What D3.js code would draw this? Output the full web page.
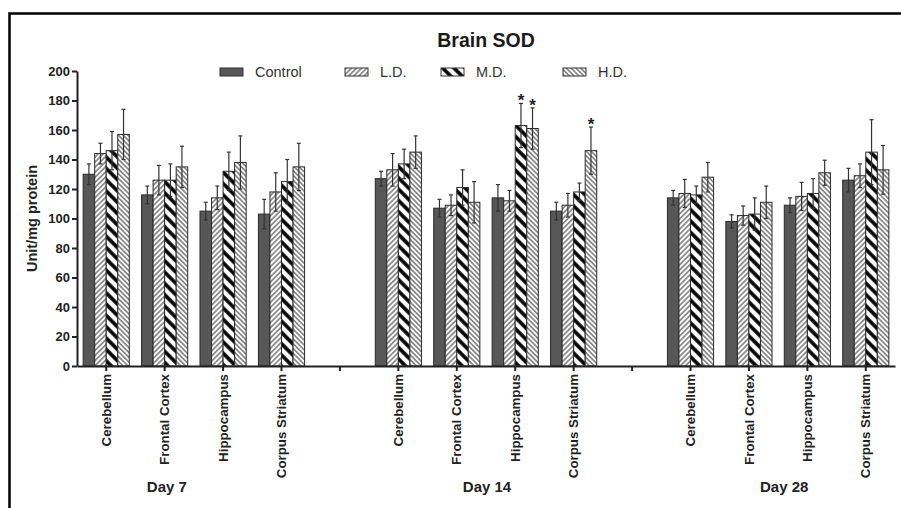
<!DOCTYPE html>
<html>
<head>
<meta charset="utf-8">
<script src="https://cdn.jsdelivr.net/npm/d3@7"></script>
<style>
  body { margin: 0; background: #fff; }
  svg { display: block; font-family: "Liberation Sans", Arial, sans-serif; }
</style>
</head>
<body>
<div id="chart"></div>
<script>
var width = 901;
var height = 508;

// data
var days = ["Day 7", "Day 14", "Day 28"];
var regions = ["Cerebellum", "Frontal Cortex", "Hippocampus", "Corpus Striatum"];
var series = ["Control", "L.D.", "M.D.", "H.D."];

// values per series, ordered day by day, region by region
var controlVals = [130, 116, 105, 103, 127, 107, 114, 105, 114, 98, 109, 126];
var ldVals      = [144, 126, 114, 118, 133, 109, 112, 109, 117, 102, 115, 129];
var mdVals      = [146, 126, 132, 125, 137, 121, 163, 118, 116, 103, 117, 145];
var hdVals      = [157, 135, 138, 135, 145, 111, 161, 146, 128, 111, 131, 133];

var controlErr = [7, 6, 6, 10, 5, 6, 9, 6, 5, 4.5, 5, 8];
var ldErr      = [7, 10, 8, 13, 11, 7, 7, 8, 9.5, 6.5, 9.5, 8];
var mdErr      = [13, 11, 13, 15, 10, 12, 15, 6, 6, 11, 10, 22];
var hdErr      = [17, 14, 18, 16, 11, 14, 14, 16, 10, 11, 8.5, 16.5];

// significance stars: [day, region, series]
var stars = [[1, 2, 2], [1, 2, 3], [1, 3, 3]];

var yTicks = [0, 20, 40, 60, 80, 100, 120, 140, 160, 180, 200];

var allVals = [controlVals, ldVals, mdVals, hdVals];
var allErr = [controlErr, ldErr, mdErr, hdErr];

// slots: 4 regions per day, one empty slot between days
var slots = [];
days.forEach(function (d, i) {
	regions.forEach(function (r) { slots.push(d + "|" + r); });
	if (i < days.length - 1) slots.push("gap" + i);
});

var bars = [];
days.forEach(function (d, di) {
	regions.forEach(function (r, ri) {
		series.forEach(function (s, si) {
			var k = di * regions.length + ri;
			bars.push({ slot: d + "|" + r, series: s, si: si, v: allVals[si][k], e: allErr[si][k], di: di, ri: ri });
		});
	});
});

var margin = { left: 77, right: 6, top: 71, bottom: 142 };

var svg = d3.select("#chart").append("svg")
	.attr("width", width)
	.attr("height", height);

// hatch patterns
var defs = svg.append("defs");
function hatch(id, size, angle, color, sw) {
	var p = defs.append("pattern")
		.attr("id", id)
		.attr("patternUnits", "userSpaceOnUse")
		.attr("width", size)
		.attr("height", size)
		.attr("patternTransform", "rotate(" + angle + ")");
	p.append("rect").attr("width", size).attr("height", size).attr("fill", "#fff");
	p.append("line")
		.attr("x1", size / 2).attr("y1", 0)
		.attr("x2", size / 2).attr("y2", size)
		.attr("stroke", color)
		.attr("stroke-width", sw);
}
hatch("pat-ld", 3.6, 45, "#333", 1);
hatch("pat-md", 8, -45, "#000", 3.6);
hatch("pat-hd", 3.4, -45, "#333", 1);

var fills = ["#575757", "url(#pat-ld)", "url(#pat-md)", "url(#pat-hd)"];

// frame
svg.append("path")
	.attr("d", "M9.5," + height + "V13.5H" + width)
	.attr("fill", "none")
	.attr("stroke", "#000")
	.attr("stroke-width", 2.5);

var x = d3.scaleBand()
	.domain(slots)
	.range([margin.left, width - margin.right])
	.paddingInner(0.21)
	.paddingOuter(0.105);

var xs = d3.scaleBand()
	.domain(series)
	.range([0, x.bandwidth()]);

var y = d3.scaleLinear()
	.domain([0, 200])
	.range([height - margin.bottom, margin.top]);

// bars
svg.append("g")
	.selectAll("rect")
	.data(bars)
	.enter()
	.append("rect")
	.attr("x", function (d) { return x(d.slot) + xs(d.series); })
	.attr("y", function (d) { return y(d.v); })
	.attr("width", xs.bandwidth())
	.attr("height", function (d) { return y(0) - y(d.v); })
	.attr("fill", function (d) { return fills[d.si]; })
	.attr("stroke", "#2a2a2a")
	.attr("stroke-width", 1);

// error bars
var eb = svg.append("g")
	.attr("stroke", "#333")
	.attr("stroke-width", 1.2)
	.selectAll("g")
	.data(bars)
	.enter()
	.append("g")
	.attr("transform", function (d) { return "translate(" + (x(d.slot) + xs(d.series) + xs.bandwidth() / 2) + ",0)"; });
eb.append("line")
	.attr("y1", function (d) { return y(d.v - d.e); })
	.attr("y2", function (d) { return y(d.v + d.e); });
eb.append("line")
	.attr("x1", -2).attr("x2", 2)
	.attr("y1", function (d) { return y(d.v + d.e); })
	.attr("y2", function (d) { return y(d.v + d.e); });
eb.append("line")
	.attr("x1", -2).attr("x2", 2)
	.attr("y1", function (d) { return y(d.v - d.e); })
	.attr("y2", function (d) { return y(d.v - d.e); });

// stars
svg.append("g")
	.selectAll("text")
	.data(stars)
	.enter()
	.append("text")
	.attr("x", function (s) { return x(days[s[0]] + "|" + regions[s[1]]) + xs(series[s[2]]) + xs.bandwidth() / 2; })
	.attr("y", function (s) {
		var k = s[0] * regions.length + s[1];
		return y(allVals[s[2]][k] + allErr[s[2]][k]) + 3;
	})
	.attr("text-anchor", "middle")
	.style("font-size", "17px")
	.style("font-weight", "bold")
	.attr("fill", "#222")
	.text("*");

// y axis
var yAxis = svg.append("g")
	.attr("transform", "translate(" + margin.left + ",0)")
	.call(d3.axisLeft(y).tickValues(yTicks).tickSize(5).tickSizeOuter(0));
yAxis.select(".domain").attr("stroke", "#222").attr("stroke-width", 2);
yAxis.selectAll(".tick line").attr("stroke", "#222").attr("stroke-width", 2);
yAxis.selectAll(".tick text")
	.attr("x", -7)
	.attr("fill", "#222")
	.style("font-size", "13px")
	.style("font-weight", "bold")
	.style("font-family", "Liberation Sans, Arial, sans-serif");

// x axis
var xAxis = svg.append("g")
	.attr("transform", "translate(0," + y(0) + ")")
	.call(d3.axisBottom(x).tickSize(5).tickSizeOuter(0).tickFormat(function (d) { return d.indexOf("|") < 0 ? "" : d.split("|")[1]; }));
xAxis.select(".domain").attr("stroke", "#222").attr("stroke-width", 2);
xAxis.selectAll(".tick line").attr("stroke", "#222").attr("stroke-width", 2);
xAxis.selectAll(".tick text")
	.attr("transform", "rotate(-90)")
	.attr("x", -8)
	.attr("y", 0)
	.attr("dy", "0.35em")
	.attr("text-anchor", "end")
	.attr("fill", "#222")
	.style("font-size", "13.3px")
	.style("font-weight", "bold")
	.style("font-family", "Liberation Sans, Arial, sans-serif");

// day labels
var dayShift = [-27, 1, 6];
svg.append("g")
	.selectAll("text")
	.data(days)
	.enter()
	.append("text")
	.attr("x", function (d, i) {
		var a = x(d + "|" + regions[0]), b = x(d + "|" + regions[regions.length - 1]);
		return (a + b + x.bandwidth()) / 2 + dayShift[i];
	})
	.attr("y", 492)
	.attr("text-anchor", "middle")
	.attr("fill", "#222")
	.style("font-size", "15px")
	.style("font-weight", "bold")
	.text(function (d) { return d; });

// y label
svg.append("text")
	.attr("transform", "translate(37," + ((y(0) + y(200)) / 2) + ") rotate(-90)")
	.attr("text-anchor", "middle")
	.attr("fill", "#222")
	.style("font-size", "14.5px")
	.style("font-weight", "bold")
	.text("Unit/mg protein");

// title
svg.append("text")
	.attr("x", (margin.left + width - margin.right) / 2)
	.attr("y", 47)
	.attr("text-anchor", "middle")
	.attr("fill", "#1a1a1a")
	.style("font-size", "19.5px")
	.style("font-weight", "bold")
	.text("Brain SOD");

// legend
var legendX = [220, 345, 441, 563];
var lg = svg.append("g")
	.selectAll("g")
	.data(series)
	.enter()
	.append("g")
	.attr("transform", function (d, i) { return "translate(" + legendX[i] + ",72)"; });
lg.append("rect")
	.attr("x", 0).attr("y", -4)
	.attr("width", 23).attr("height", 8)
	.attr("fill", function (d, i) { return fills[i]; })
	.attr("stroke", "#333")
	.attr("stroke-width", 1);
lg.append("text")
	.attr("x", 35)
	.attr("y", 0)
	.attr("dy", "0.36em")
	.attr("fill", "#333")
	.style("font-size", "14.5px")
	.text(function (d) { return d; });
</script>
</body>
</html>
